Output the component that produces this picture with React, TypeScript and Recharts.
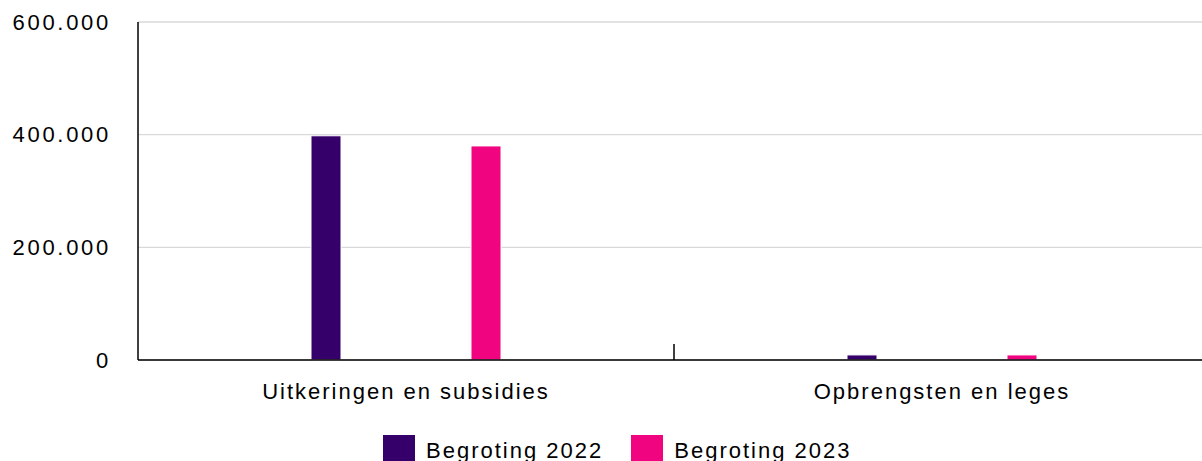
import {
  Bar,
  BarChart,
  CartesianGrid,
  Legend,
  XAxis,
  YAxis,
} from 'recharts'

const categories = ['Uitkeringen en subsidies', 'Opbrengsten en leges']
const begroting2022 = [398000, 9000]
const begroting2023 = [380000, 9000]
const yTicks = [0, 200000, 400000, 600000]

const seriesNames = ['Begroting 2022', 'Begroting 2023']
const seriesColors = ['#36006a', '#f0047f']

const data = categories.map((name, i) => ({
  name,
  b2022: begroting2022[i],
  b2023: begroting2023[i],
}))

const font = 'Arial, "Liberation Sans", sans-serif'
const xTickMargin = 23

function formatNl(v: number) {
  return String(v).replace(/\B(?=(\d{3})+(?!\d))/g, '.')
}

// category label plus the small upward divider mark at the band boundary
function CategoryTick(props: any) {
  const { x, y, payload, index, visibleTicksCount } = props
  const axisY = y - xTickMargin
  const boundary = payload.coordinate + (payload.offset ?? 0)
  return (
    <g>
      {index < visibleTicksCount - 1 && (
        <line x1={boundary} x2={boundary} y1={axisY} y2={axisY - 16} stroke="#000" strokeWidth={1.5} />
      )}
      <text
        x={x}
        y={y}
        dy="0.71em"
        textAnchor="middle"
        fill="#000"
        fontSize={22}
        fontFamily={font}
        letterSpacing={2}
      >
        {payload.value}
      </text>
    </g>
  )
}

function ChartLegend() {
  return (
    <div
      style={{
        display: 'flex',
        alignItems: 'flex-start',
        paddingLeft: 383,
        fontFamily: font,
        fontSize: 22,
        letterSpacing: 2,
        color: '#000',
        height: 40,
      }}
    >
      {seriesNames.map((n, i) => (
        <div key={n} style={{ display: 'flex', alignItems: 'flex-start', marginRight: i === 0 ? 28 : 0 }}>
          <div style={{ width: 32, height: 32, background: seriesColors[i], marginRight: 11 }} />
          <span style={{ lineHeight: '32px' }}>{n}</span>
        </div>
      ))}
    </div>
  )
}

export default function App() {
  return (
    <div style={{ position: 'absolute', left: 0, top: 0, width: 1202, height: 461, overflow: 'hidden', background: '#fff' }}>
      <BarChart
        width={1210}
        height={475}
        data={data}
        margin={{ top: 22, right: 0, left: 0, bottom: 0 }}
        barSize={30}
        barGap={130}
      >
        <CartesianGrid stroke="#d9d9d9" strokeWidth={1.3} vertical={false} />
        <XAxis
          dataKey="name"
          height={75}
          axisLine={{ stroke: '#000', strokeWidth: 1.5 }}
          tickLine={false}
          tickSize={0}
          tickMargin={xTickMargin}
          interval={0}
          tick={<CategoryTick />}
        />
        <YAxis
          width={138}
          domain={[0, 600000]}
          ticks={yTicks}
          tickFormatter={formatNl}
          axisLine={{ stroke: '#000', strokeWidth: 1.5 }}
          tickLine={false}
          tickSize={0}
          tickMargin={27}
          tick={{ fill: '#000', fontSize: 22, fontFamily: font, letterSpacing: 2.7 }}
        />
        <Legend verticalAlign="bottom" content={<ChartLegend />} />
        <Bar dataKey="b2022" name={seriesNames[0]} fill={seriesColors[0]} stroke="#fff" strokeWidth={1} isAnimationActive={false} />
        <Bar dataKey="b2023" name={seriesNames[1]} fill={seriesColors[1]} stroke="#fff" strokeWidth={1} isAnimationActive={false} />
      </BarChart>
    </div>
  )
}
